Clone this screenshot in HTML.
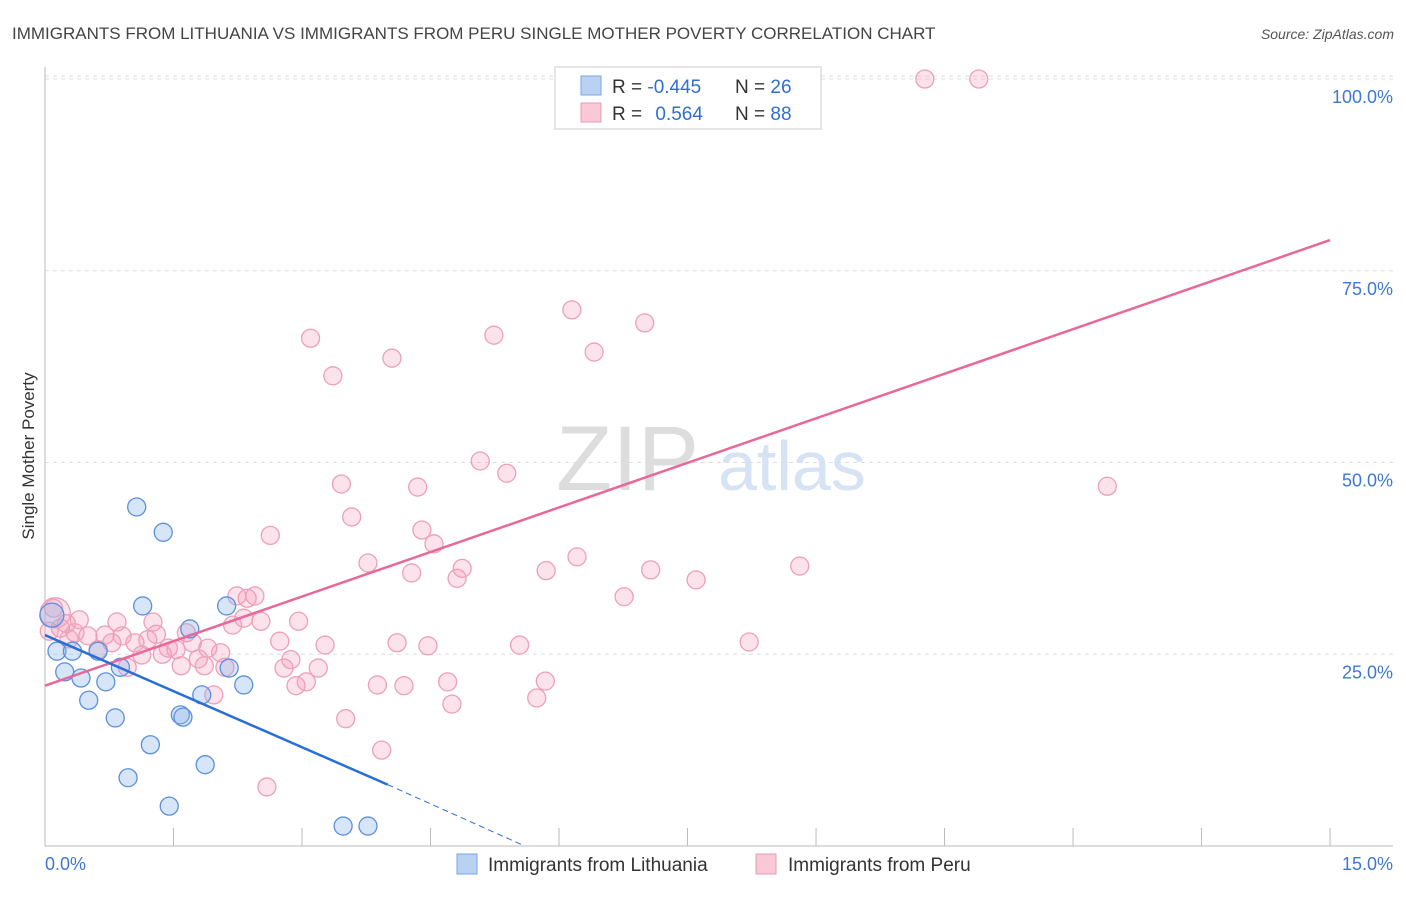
<!DOCTYPE html>
<html><head><meta charset="utf-8"><style>
body{margin:0;background:#fff;font-family:"Liberation Sans",sans-serif}
svg text{font-family:"Liberation Sans",sans-serif}
</style></head><body>
<svg id="chart" width="1406" height="892" xmlns="http://www.w3.org/2000/svg">
<text x="12" y="39" font-size="17" fill="#444">IMMIGRANTS FROM LITHUANIA VS IMMIGRANTS FROM PERU SINGLE MOTHER POVERTY CORRELATION CHART</text>
<text x="1394" y="39" font-size="14" fill="#555" text-anchor="end" font-style="italic">Source: ZipAtlas.com</text>
<text transform="translate(34,456) rotate(-90)" font-size="17" fill="#333" text-anchor="middle">Single Mother Poverty</text>
<g>
<text x="556" y="490" font-size="92" fill="#ddd" font-family="Liberation Serif,serif">ZIP</text>
<text x="718" y="490" font-size="70" fill="#d5e3f5">atlas</text>
</g>
<g id="grid"></g><g id="axes"></g><g id="pts"></g><g id="lines"></g>
<g>
<rect x="555" y="67" width="266" height="62" fill="#fff" stroke="#ccc"/>
<rect x="581" y="76" width="20" height="19" fill="#b9d2f3" stroke="#7aa5e0"/>
<rect x="581" y="103" width="20" height="19" fill="#f9c9d7" stroke="#eb98b2"/>
<text x="612" y="93" font-size="19" fill="#333">R = <tspan fill="#2f6fd1">-0.445</tspan></text>
<text x="735" y="93" font-size="19" fill="#333">N = <tspan fill="#2f6fd1">26</tspan></text>
<text x="612" y="120" font-size="19" fill="#333">R = <tspan fill="#2f6fd1" dx="8">0.564</tspan></text>
<text x="735" y="120" font-size="19" fill="#333">N = <tspan fill="#2f6fd1">88</tspan></text>
</g>
<g>
<rect x="457" y="854" width="20" height="20" fill="#b9d2f3" stroke="#7aa5e0"/>
<text x="488" y="871" font-size="19" fill="#333">Immigrants from Lithuania</text>
<rect x="756" y="854" width="20" height="20" fill="#f9c9d7" stroke="#eb98b2"/>
<text x="788" y="871" font-size="19" fill="#333">Immigrants from Peru</text>
</g>
</svg>
<script>
const xTicks=[0,1.5,3,4.5,6,7.5,9,10.5,12,13.5,15];
const yTicks=[25,50,75,100];
const yTickLabels=["25.0%","50.0%","75.0%","100.0%"];
const lithX=[1.07,1.38,1.14,2.12,1.69,0.14,0.32,0.62,0.88,2.15,0.23,0.42,0.71,2.32,0.51,1.83,0.82,1.58,1.61,1.23,1.87,0.97,1.45,3.48,3.77,0.08];
const lithY=[44.2,40.9,31.3,31.3,28.3,25.4,25.4,25.4,23.3,23.2,22.7,21.9,21.4,21.0,19.0,19.7,16.7,17.1,16.8,13.2,10.6,8.9,5.2,2.6,2.6,30.1];
const peruX=[6.91,10.27,10.90,6.15,7.00,3.10,5.24,6.41,4.05,3.36,5.08,5.39,3.46,4.35,12.40,3.58,4.40,2.63,4.54,6.21,3.77,8.81,4.87,5.85,7.07,4.28,4.81,7.60,6.76,2.24,2.45,2.36,2.32,2.52,2.96,0.84,1.26,2.19,0.12,0.18,0.35,0.50,0.70,0.90,1.30,1.65,1.20,1.05,0.78,1.72,2.74,3.27,4.11,4.47,5.54,8.22,0.62,1.44,1.53,1.90,1.13,1.37,2.05,1.79,2.87,1.86,2.10,1.59,0.96,2.79,3.19,3.05,2.93,3.88,4.19,4.70,5.84,1.97,5.74,4.75,3.51,3.93,2.59,0.25,0.05,0.40,0.28,0.10];
const peruY=[100,100,100,69.9,68.2,66.2,66.6,64.4,63.6,61.3,50.2,48.6,47.2,46.8,46.9,42.9,41.2,40.5,39.4,37.7,36.9,36.5,36.2,35.9,36.0,35.6,34.9,34.7,32.5,32.6,32.6,32.3,29.7,29.3,29.3,29.2,29.2,28.8,30.4,28.4,27.8,27.4,27.5,27.4,27.6,27.8,26.9,26.5,26.5,26.5,26.7,26.2,26.5,26.1,26.2,26.6,25.6,25.8,25.6,25.8,24.9,25.0,25.2,24.4,24.3,23.5,23.3,23.5,23.3,23.2,23.2,21.4,20.9,21.0,20.9,21.4,21.5,19.7,19.3,18.5,16.6,12.5,7.7,29.0,28.0,29.5,27.0,31.0];
const lithTrendX=[0,4.0,5.6];const lithTrendY=[27.5,8.0,0];
const peruTrendX=[0,15];const peruTrendY=[20.9,79.0];
const X=v=>45+v*85.67, Y=v=>846-v*7.67;
const NS="http://www.w3.org/2000/svg";
function mk(t,a,p){const e=document.createElementNS(NS,t);for(const k in a)e.setAttribute(k,a[k]);p.appendChild(e);return e;}
const grid=document.getElementById('grid'),axes=document.getElementById('axes'),pts=document.getElementById('pts'),lines=document.getElementById('lines');
yTicks.forEach((t,i)=>{
 const l=mk('line',{x1:45,x2:1393,y1:Y(t),y2:Y(t),stroke:'#ddd','stroke-dasharray':'4,4'},grid);
 
 
 const tx=mk('text',{x:1393,y:Y(t)+24,'font-size':18,fill:'#3f78d0','text-anchor':'end'},axes);
 tx.textContent=yTickLabels[i];
 
 
});
const g0=mk('line',{x1:45,x2:1393,y1:Y(100)-3,y2:Y(100)-3,stroke:'#ddd','stroke-dasharray':'4,4'},grid);
mk('line',{x1:45,x2:45,y1:67,y2:846,stroke:'#bbb'},axes);
mk('line',{x1:45,x2:1393,y1:846,y2:846,stroke:'#bbb'},axes);
xTicks.forEach(t=>{
 const l=mk('line',{x1:X(t),x2:X(t),y1:828,y2:846,stroke:'#bbb'},axes);
 
 
});
const xl0=mk('text',{x:45,y:870,'font-size':18,fill:'#3f78d0'},axes);xl0.textContent='0.0%';

const xl1=mk('text',{x:1393,y:870,'font-size':18,fill:'#3f78d0','text-anchor':'end'},axes);xl1.textContent='15.0%';

peruX.forEach((x,i)=>{
 const c=mk('circle',{cx:X(x),cy:Y(peruY[i]),r:(i==38?15:9),fill:'rgba(244,160,188,0.3)',stroke:'#eda0b8','stroke-width':1.3},pts);
 
 
});
lithX.forEach((x,i)=>{
 const c=mk('circle',{cx:X(x),cy:Y(lithY[i]),r:(i==25?12:9),fill:'rgba(140,180,235,0.35)',stroke:'#5b90dd','stroke-width':1.3},pts);
 
 
});
const pl=mk('line',{x1:X(peruTrendX[0]),y1:Y(peruTrendY[0]),x2:X(peruTrendX[1]),y2:Y(peruTrendY[1]),stroke:'#e8689a','stroke-width':2.5},lines);


const bl=mk('line',{x1:X(lithTrendX[0]),y1:Y(lithTrendY[0]),x2:X(lithTrendX[1]),y2:Y(lithTrendY[1]),stroke:'#2a6fd6','stroke-width':2.5},lines);


const bd=mk('line',{x1:X(lithTrendX[1]),y1:Y(lithTrendY[1]),x2:X(lithTrendX[2]),y2:Y(lithTrendY[2]),stroke:'#2a6fd6','stroke-width':1,'stroke-dasharray':'6,4'},lines);


</script>
</body></html>
